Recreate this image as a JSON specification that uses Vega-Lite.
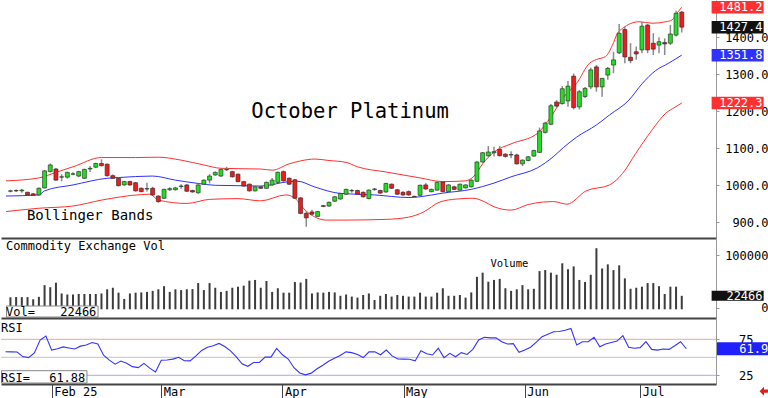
{
"$schema": "https://vega.github.io/schema/vega-lite/v6.json",
"padding": 0,
"spacing": 0,
"bounds": "flush",
"background": "#ffffff",
"config": {"view": {"stroke": null}, "axis": {"labelFont": "DejaVu Sans Mono", "labelFontSize": 12, "labelColor": "#000000", "grid": false}},
"datasets": {
"ohlc": [
{"i":0,"o":984,"h":988,"l":981,"c":985,"v":19600,"r":57.8},
{"i":1,"o":986,"h":989,"l":982,"c":985,"v":20000,"r":57.6},
{"i":2,"o":985,"h":991,"l":980,"c":987,"v":20000,"r":57.4},
{"i":3,"o":981,"h":983,"l":972,"c":974,"v":20000,"r":51},
{"i":4,"o":977,"h":979,"l":971,"c":973,"v":15800,"r":49.5},
{"i":5,"o":974,"h":994,"l":972,"c":992,"v":20500,"r":56},
{"i":6,"o":993,"h":1041,"l":991,"c":1039,"v":43000,"r":74},
{"i":7,"o":1037,"h":1059,"l":1035,"c":1055,"v":39000,"r":79.5},
{"i":8,"o":1044,"h":1047,"l":1012,"c":1014,"v":47700,"r":60},
{"i":9,"o":1022,"h":1030,"l":1011,"c":1023,"v":27000,"r":62},
{"i":10,"o":1022,"h":1037,"l":1018,"c":1035,"v":25000,"r":64.5},
{"i":11,"o":1030,"h":1035,"l":1027,"c":1031,"v":25000,"r":63},
{"i":12,"o":1025,"h":1039,"l":1022,"c":1037,"v":26000,"r":61.5},
{"i":13,"o":1019,"h":1045,"l":1017,"c":1043,"v":26000,"r":65.5},
{"i":14,"o":1044,"h":1052,"l":1036,"c":1046,"v":26000,"r":67},
{"i":15,"o":1049,"h":1061,"l":1047,"c":1059,"v":26000,"r":70.5},
{"i":16,"o":1059,"h":1070,"l":1051,"c":1053,"v":27000,"r":68.5},
{"i":17,"o":1057,"h":1059,"l":1024,"c":1026,"v":35000,"r":53},
{"i":18,"o":1026,"h":1029,"l":1017,"c":1019,"v":38000,"r":46},
{"i":19,"o":1019,"h":1021,"l":997,"c":999,"v":28500,"r":40.5},
{"i":20,"o":1001,"h":1012,"l":999,"c":1010,"v":16500,"r":44.8},
{"i":21,"o":1010,"h":1012,"l":999,"c":1001,"v":27000,"r":41.8},
{"i":22,"o":1007,"h":1009,"l":983,"c":985,"v":28500,"r":37},
{"i":23,"o":992,"h":994,"l":981,"c":983,"v":29000,"r":35.6},
{"i":24,"o":990,"h":1007,"l":983,"c":991,"v":30000,"r":41.5},
{"i":25,"o":992,"h":996,"l":972,"c":974,"v":32000,"r":35},
{"i":26,"o":971,"h":973,"l":953,"c":956,"v":35000,"r":29.5},
{"i":27,"o":965,"h":991,"l":963,"c":989,"v":41000,"r":45.8},
{"i":28,"o":988,"h":995,"l":985,"c":991,"v":30000,"r":46.2},
{"i":29,"o":988,"h":996,"l":986,"c":993,"v":35000,"r":47.5},
{"i":30,"o":997,"h":1003,"l":991,"c":998,"v":33500,"r":50},
{"i":31,"o":1001,"h":1003,"l":982,"c":984,"v":35000,"r":45.2},
{"i":32,"o":986,"h":988,"l":980,"c":982,"v":35500,"r":45},
{"i":33,"o":980,"h":1003,"l":977,"c":1001,"v":47000,"r":52},
{"i":34,"o":1003,"h":1016,"l":1001,"c":1014,"v":33500,"r":59.5},
{"i":35,"o":1014,"h":1030,"l":1005,"c":1025,"v":47000,"r":64},
{"i":36,"o":1028,"h":1037,"l":1026,"c":1035,"v":38000,"r":66},
{"i":37,"o":1025,"h":1045,"l":1023,"c":1043,"v":30000,"r":69.3},
{"i":38,"o":1042,"h":1050,"l":1039,"c":1043,"v":32000,"r":65},
{"i":39,"o":1037,"h":1039,"l":1021,"c":1023,"v":38000,"r":59},
{"i":40,"o":1030,"h":1032,"l":1008,"c":1010,"v":40000,"r":50.5},
{"i":41,"o":1010,"h":1012,"l":996,"c":998,"v":42000,"r":41},
{"i":42,"o":1003,"h":1005,"l":983,"c":985,"v":51600,"r":37.5},
{"i":43,"o":985,"h":998,"l":983,"c":996,"v":53000,"r":42.8},
{"i":44,"o":996,"h":998,"l":990,"c":992,"v":38000,"r":43},
{"i":45,"o":992,"h":1010,"l":990,"c":1008,"v":51000,"r":50.3},
{"i":46,"o":1001,"h":1020,"l":999,"c":1014,"v":30000,"r":50.2},
{"i":47,"o":1008,"h":1037,"l":1006,"c":1035,"v":37000,"r":62.3},
{"i":48,"o":1037,"h":1040,"l":1010,"c":1012,"v":28500,"r":53.5},
{"i":49,"o":1019,"h":1021,"l":1001,"c":1003,"v":28500,"r":47.6},
{"i":50,"o":1015,"h":1017,"l":963,"c":965,"v":49000,"r":35.5},
{"i":51,"o":966,"h":968,"l":922,"c":924,"v":48000,"r":28.3},
{"i":52,"o":924,"h":930,"l":888,"c":912,"v":55000,"r":25.6},
{"i":53,"o":928,"h":934,"l":918,"c":922,"v":27000,"r":28},
{"i":54,"o":916,"h":931,"l":914,"c":929,"v":29000,"r":34},
{"i":55,"o":945,"h":947,"l":941,"c":943,"v":28500,"r":39},
{"i":56,"o":944,"h":956,"l":942,"c":954,"v":30000,"r":44.5},
{"i":57,"o":957,"h":971,"l":955,"c":969,"v":29000,"r":48.6},
{"i":58,"o":963,"h":980,"l":961,"c":978,"v":22500,"r":52.5},
{"i":59,"o":976,"h":991,"l":974,"c":989,"v":25000,"r":57.5},
{"i":60,"o":985,"h":990,"l":980,"c":986,"v":21000,"r":56.5},
{"i":61,"o":986,"h":988,"l":974,"c":976,"v":19000,"r":54},
{"i":62,"o":981,"h":983,"l":967,"c":969,"v":24000,"r":49.6},
{"i":63,"o":964,"h":989,"l":962,"c":987,"v":27000,"r":57.5},
{"i":64,"o":989,"h":993,"l":985,"c":990,"v":14400,"r":57.8},
{"i":65,"o":986,"h":988,"l":977,"c":979,"v":22500,"r":53.5},
{"i":66,"o":982,"h":1007,"l":980,"c":1005,"v":26000,"r":60},
{"i":67,"o":1003,"h":1005,"l":990,"c":992,"v":21000,"r":52},
{"i":68,"o":988,"h":990,"l":974,"c":976,"v":24000,"r":47.6},
{"i":69,"o":981,"h":984,"l":972,"c":974,"v":22500,"r":47.4},
{"i":70,"o":983,"h":986,"l":972,"c":974,"v":21000,"r":47.2},
{"i":71,"o":970,"h":972,"l":967,"c":969,"v":21000,"r":45},
{"i":72,"o":973,"h":1002,"l":971,"c":1000,"v":28500,"r":59.2},
{"i":73,"o":1001,"h":1006,"l":988,"c":990,"v":21000,"r":55},
{"i":74,"o":983,"h":991,"l":981,"c":989,"v":21000,"r":53.2},
{"i":75,"o":987,"h":1010,"l":985,"c":1008,"v":28500,"r":62.5},
{"i":76,"o":1009,"h":1011,"l":981,"c":983,"v":37000,"r":49.5},
{"i":77,"o":983,"h":1003,"l":981,"c":1001,"v":22500,"r":55.5},
{"i":78,"o":996,"h":999,"l":987,"c":989,"v":22500,"r":50.8},
{"i":79,"o":987,"h":1005,"l":985,"c":1003,"v":24000,"r":56.5},
{"i":80,"o":993,"h":1003,"l":991,"c":1001,"v":19000,"r":54},
{"i":81,"o":996,"h":1016,"l":994,"c":1014,"v":29000,"r":61},
{"i":82,"o":1011,"h":1065,"l":1009,"c":1063,"v":59000,"r":74},
{"i":83,"o":1063,"h":1090,"l":1061,"c":1088,"v":67000,"r":77.8},
{"i":84,"o":1080,"h":1106,"l":1077,"c":1090,"v":49600,"r":77},
{"i":85,"o":1088,"h":1104,"l":1078,"c":1091,"v":53000,"r":77.2},
{"i":86,"o":1097,"h":1106,"l":1078,"c":1080,"v":55000,"r":71.5},
{"i":87,"o":1084,"h":1087,"l":1075,"c":1078,"v":37000,"r":68.5},
{"i":88,"o":1082,"h":1092,"l":1073,"c":1083,"v":32000,"r":69},
{"i":89,"o":1082,"h":1085,"l":1056,"c":1058,"v":35000,"r":57},
{"i":90,"o":1058,"h":1070,"l":1052,"c":1068,"v":43000,"r":60},
{"i":91,"o":1067,"h":1079,"l":1065,"c":1077,"v":35000,"r":64},
{"i":92,"o":1079,"h":1096,"l":1077,"c":1094,"v":36000,"r":71},
{"i":93,"o":1089,"h":1156,"l":1087,"c":1147,"v":70000,"r":78.6},
{"i":94,"o":1143,"h":1172,"l":1140,"c":1168,"v":72000,"r":82},
{"i":95,"o":1165,"h":1220,"l":1162,"c":1215,"v":67000,"r":85.6},
{"i":96,"o":1225,"h":1230,"l":1210,"c":1214,"v":63000,"r":85.8},
{"i":97,"o":1221,"h":1268,"l":1218,"c":1261,"v":85000,"r":87.5},
{"i":98,"o":1228,"h":1282,"l":1212,"c":1268,"v":73600,"r":90},
{"i":99,"o":1295,"h":1302,"l":1205,"c":1210,"v":79000,"r":67},
{"i":100,"o":1212,"h":1258,"l":1205,"c":1253,"v":53000,"r":71.7},
{"i":101,"o":1240,"h":1266,"l":1236,"c":1262,"v":49000,"r":71.8},
{"i":102,"o":1266,"h":1318,"l":1260,"c":1312,"v":63000,"r":77.8},
{"i":103,"o":1320,"h":1325,"l":1253,"c":1266,"v":114000,"r":64.7},
{"i":104,"o":1266,"h":1290,"l":1239,"c":1289,"v":75000,"r":68.5},
{"i":105,"o":1298,"h":1320,"l":1285,"c":1316,"v":83000,"r":70.5},
{"i":106,"o":1325,"h":1361,"l":1303,"c":1339,"v":72000,"r":72.6},
{"i":107,"o":1358,"h":1436,"l":1355,"c":1411,"v":81000,"r":80},
{"i":108,"o":1421,"h":1429,"l":1330,"c":1347,"v":56000,"r":63.9},
{"i":109,"o":1346,"h":1384,"l":1330,"c":1337,"v":36000,"r":62.5},
{"i":110,"o":1361,"h":1375,"l":1339,"c":1355,"v":38000,"r":63.4},
{"i":111,"o":1366,"h":1442,"l":1357,"c":1430,"v":40000,"r":71.7},
{"i":112,"o":1433,"h":1436,"l":1357,"c":1366,"v":47000,"r":61},
{"i":113,"o":1384,"h":1411,"l":1352,"c":1368,"v":47000,"r":60},
{"i":114,"o":1379,"h":1400,"l":1357,"c":1388,"v":41000,"r":61.5},
{"i":115,"o":1386,"h":1397,"l":1352,"c":1382,"v":26000,"r":61},
{"i":116,"o":1384,"h":1433,"l":1379,"c":1409,"v":40000,"r":66},
{"i":117,"o":1406,"h":1472,"l":1402,"c":1465,"v":40000,"r":71.7},
{"i":118,"o":1468,"h":1471,"l":1413,"c":1427.4,"v":22466,"r":61.88}
],
"bands": [
{"i":-0.78,"b":"upper","p":1012},{"i":5,"b":"upper","p":1020},{"i":8,"b":"upper","p":1035},{"i":11,"b":"upper","p":1050},{"i":16,"b":"upper","p":1075},{"i":22,"b":"upper","p":1075},{"i":26,"b":"upper","p":1076},{"i":30,"b":"upper","p":1068},{"i":34,"b":"upper","p":1055},{"i":37,"b":"upper","p":1046},{"i":40,"b":"upper","p":1045},{"i":44,"b":"upper","p":1044},{"i":46,"b":"upper","p":1041},{"i":49,"b":"upper","p":1058},{"i":51,"b":"upper","p":1066},{"i":53.5,"b":"upper","p":1071},{"i":56,"b":"upper","p":1067},{"i":59,"b":"upper","p":1062},{"i":61,"b":"upper","p":1050},{"i":66,"b":"upper","p":1036},{"i":72,"b":"upper","p":1020},{"i":76,"b":"upper","p":1010},{"i":80,"b":"upper","p":1012},{"i":81.5,"b":"upper","p":1025},{"i":83,"b":"upper","p":1058},{"i":85,"b":"upper","p":1090},{"i":88,"b":"upper","p":1112},{"i":92.6,"b":"upper","p":1140},{"i":95,"b":"upper","p":1185},{"i":97.2,"b":"upper","p":1238},{"i":99.5,"b":"upper","p":1275},{"i":101.8,"b":"upper","p":1330},{"i":103,"b":"upper","p":1340},{"i":104.6,"b":"upper","p":1348},{"i":105.8,"b":"upper","p":1378},{"i":106.7,"b":"upper","p":1411},{"i":107.6,"b":"upper","p":1424},{"i":110.5,"b":"upper","p":1442},{"i":112.8,"b":"upper","p":1438},{"i":115.2,"b":"upper","p":1442},{"i":116.3,"b":"upper","p":1447},{"i":117.2,"b":"upper","p":1466},{"i":118,"b":"upper","p":1481.2},
{"i":-0.78,"b":"mid","p":971},{"i":5,"b":"mid","p":974},{"i":6,"b":"mid","p":985},{"i":11,"b":"mid","p":1001},{"i":17,"b":"mid","p":1019},{"i":19,"b":"mid","p":1021},{"i":25,"b":"mid","p":1025},{"i":29,"b":"mid","p":1014},{"i":33,"b":"mid","p":1005},{"i":36,"b":"mid","p":1000},{"i":40,"b":"mid","p":999},{"i":44,"b":"mid","p":998},{"i":49,"b":"mid","p":1010},{"i":50.5,"b":"mid","p":1011},{"i":53.4,"b":"mid","p":996},{"i":58,"b":"mid","p":978},{"i":64,"b":"mid","p":974},{"i":70,"b":"mid","p":967},{"i":72,"b":"mid","p":969},{"i":76,"b":"mid","p":979},{"i":81,"b":"mid","p":989},{"i":85,"b":"mid","p":1006},{"i":88,"b":"mid","p":1023},{"i":92.6,"b":"mid","p":1047},{"i":95.4,"b":"mid","p":1077},{"i":97.2,"b":"mid","p":1102},{"i":99.5,"b":"mid","p":1130},{"i":103,"b":"mid","p":1163},{"i":105.3,"b":"mid","p":1190},{"i":108.7,"b":"mid","p":1230},{"i":111,"b":"mid","p":1274},{"i":113.4,"b":"mid","p":1310},{"i":115.7,"b":"mid","p":1330},{"i":118,"b":"mid","p":1351.8},
{"i":-0.78,"b":"lower","p":929},{"i":5,"b":"lower","p":938},{"i":11,"b":"lower","p":944},{"i":16,"b":"lower","p":960},{"i":23,"b":"lower","p":975},{"i":24.5,"b":"lower","p":976},{"i":26,"b":"lower","p":960},{"i":31,"b":"lower","p":951},{"i":35,"b":"lower","p":962},{"i":40,"b":"lower","p":964},{"i":44,"b":"lower","p":958},{"i":48.4,"b":"lower","p":974},{"i":50,"b":"lower","p":965},{"i":51.8,"b":"lower","p":933},{"i":54,"b":"lower","p":911},{"i":55.5,"b":"lower","p":906},{"i":59,"b":"lower","p":906},{"i":66,"b":"lower","p":908},{"i":70,"b":"lower","p":914},{"i":72.5,"b":"lower","p":927},{"i":75.5,"b":"lower","p":955},{"i":78.5,"b":"lower","p":963},{"i":81.3,"b":"lower","p":965},{"i":83.4,"b":"lower","p":955},{"i":85,"b":"lower","p":942},{"i":88,"b":"lower","p":933},{"i":91,"b":"lower","p":948},{"i":93.7,"b":"lower","p":955},{"i":95.5,"b":"lower","p":956},{"i":97.8,"b":"lower","p":949},{"i":101.2,"b":"lower","p":985},{"i":105.3,"b":"lower","p":1001},{"i":107.6,"b":"lower","p":1032},{"i":109.9,"b":"lower","p":1086},{"i":112.8,"b":"lower","p":1150},{"i":115.2,"b":"lower","p":1195},{"i":116.8,"b":"lower","p":1211},{"i":118,"b":"lower","p":1222.3}
],
"one": [{}]
},
"vconcat": [
{
"width": 715, "height": 238,
"layer": [
{"data": {"name": "bands"}, "mark": {"type": "line", "strokeWidth": 1, "interpolate": "monotone"},
 "encoding": {
  "x": {"field": "i", "type": "quantitative", "scale": {"domain": [-0.78, 123.14], "nice": false, "zero": false}, "axis": {"orient": "bottom", "labels": false, "ticks": false, "domainColor": "#444444", "domainWidth": 2, "title": null, "zindex": 1}},
  "y": {"field": "p", "type": "quantitative", "scale": {"domain": [857.6, 1500.8], "nice": false, "zero": false}, "axis": {"orient": "right", "values": [900,1000,1100,1200,1300,1400], "format": ".1f", "labelAlign": "right", "labelBaseline": "middle", "labelPadding": 49, "tickSize": 3, "tickColor": "#999999", "domainColor": "#999999", "title": null}},
  "color": {"field": "b", "type": "nominal", "scale": {"domain": ["upper","mid","lower"], "range": ["#ff3030","#3030ff","#ff3030"]}, "legend": null},
  "detail": {"field": "b"}
 }},
{"data": {"name": "ohlc"}, "mark": {"type": "rule", "color": "#8a8a8a", "strokeWidth": 1.5},
 "encoding": {"x": {"field": "i", "type": "quantitative"}, "y": {"field": "l", "type": "quantitative"}, "y2": {"field": "h"}}},
{"data": {"name": "ohlc"}, "mark": {"type": "bar", "size": 4, "stroke": "#222222", "strokeWidth": 0.6, "opacity": 1},
 "encoding": {"x": {"field": "i", "type": "quantitative"}, "y": {"field": "o", "type": "quantitative"}, "y2": {"field": "c"},
  "fill": {"condition": {"test": "datum.c >= datum.o", "value": "#22dd22"}, "value": "#ee1c1c"}}},
{"data": {"name": "bands"}, "transform": [{"filter": "datum.i == 118"}], "mark": {"type": "tick", "orient": "horizontal", "size": 52, "thickness": 12.5, "opacity": 1},
 "encoding": {"x": {"datum": 127.82, "type": "quantitative"}, "y": {"field": "p", "type": "quantitative"}, "color": {"field": "b", "type": "nominal", "legend": null}}},
{"data": {"name": "ohlc"}, "transform": [{"filter": "datum.i == 118"}], "mark": {"type": "tick", "orient": "horizontal", "size": 52, "thickness": 12.5, "opacity": 1, "color": "#111111"},
 "encoding": {"x": {"datum": 127.82, "type": "quantitative"}, "y": {"field": "c", "type": "quantitative"}}},
{"data": {"name": "bands"}, "transform": [{"filter": "datum.i == 118"}], "mark": {"type": "text", "align": "right", "baseline": "middle", "font": "DejaVu Sans Mono", "fontSize": 12, "color": "#ffffff"},
 "encoding": {"x": {"datum": 132.2, "type": "quantitative"}, "y": {"field": "p", "type": "quantitative"}, "text": {"field": "p", "format": ".1f"}}},
{"data": {"name": "ohlc"}, "transform": [{"filter": "datum.i == 118"}], "mark": {"type": "text", "align": "right", "baseline": "middle", "font": "DejaVu Sans Mono", "fontSize": 12, "color": "#ffffff"},
 "encoding": {"x": {"datum": 132.2, "type": "quantitative"}, "y": {"field": "c", "type": "quantitative"}, "text": {"field": "c", "format": ".1f"}}},
{"data": {"name": "one"}, "mark": {"type": "text", "align": "center", "baseline": "alphabetic", "font": "DejaVu Sans Mono", "fontSize": 20.5, "color": "#000000"},
 "encoding": {"x": {"datum": 59.7, "type": "quantitative"}, "y": {"datum": 1181.1, "type": "quantitative"}, "text": {"value": "October Platinum"}}},
{"data": {"name": "one"}, "mark": {"type": "text", "align": "left", "baseline": "alphabetic", "font": "DejaVu Sans Mono", "fontSize": 14, "color": "#000000"},
 "encoding": {"x": {"datum": 2.9, "type": "quantitative"}, "y": {"datum": 906.2, "type": "quantitative"}, "text": {"value": "Bollinger Bands"}}}
]
},
{
"width": 715, "height": 80,
"layer": [
{"data": {"name": "ohlc"}, "mark": {"type": "bar", "size": 2, "color": "#3c3c3c", "opacity": 1},
 "encoding": {
  "x": {"field": "i", "type": "quantitative", "scale": {"domain": [-0.78, 123.14], "nice": false, "zero": false}, "axis": {"orient": "bottom", "labels": false, "ticks": false, "domainColor": "#444444", "domainWidth": 2, "title": null, "zindex": 1}},
  "y": {"field": "v", "type": "quantitative", "scale": {"domain": [-20190, 133650], "nice": false, "zero": false}, "axis": {"orient": "right", "values": [0, 50000, 100000], "format": "d", "labelAlign": "right", "labelBaseline": "middle", "labelPadding": 49, "tickSize": 3, "tickColor": "#999999", "domainColor": "#999999", "title": null}},
  "y2": {"datum": -3460}
 }},
{"data": {"name": "ohlc"}, "transform": [{"filter": "datum.i == 118"}], "mark": {"type": "tick", "orient": "horizontal", "size": 52, "thickness": 10, "opacity": 1, "color": "#111111"},
 "encoding": {"x": {"datum": 127.82, "type": "quantitative"}, "y": {"field": "v", "type": "quantitative"}}},
{"data": {"name": "ohlc"}, "transform": [{"filter": "datum.i == 118"}], "mark": {"type": "text", "align": "right", "baseline": "middle", "font": "DejaVu Sans Mono", "fontSize": 12, "color": "#ffffff"},
 "encoding": {"x": {"datum": 132.2, "type": "quantitative"}, "y": {"field": "v", "type": "quantitative"}, "text": {"field": "v", "format": "d"}}},
{"data": {"name": "one"}, "mark": {"type": "rect", "fill": "#ffffff", "stroke": "#888888", "strokeWidth": 1},
 "encoding": {"x": {"datum": -0.69, "type": "quantitative"}, "x2": {"datum": 15.4}, "y": {"datum": -18270, "type": "quantitative"}, "y2": {"datum": 2885}}},
{"data": {"name": "one"}, "mark": {"type": "text", "align": "left", "baseline": "alphabetic", "font": "DejaVu Sans Mono", "fontSize": 12, "color": "#000000"},
 "encoding": {"x": {"datum": -0.78, "type": "quantitative"}, "y": {"datum": -15770, "type": "quantitative"}, "text": {"value": "Vol="}}},
{"data": {"name": "ohlc"}, "transform": [{"filter": "datum.i == 118"}], "mark": {"type": "text", "align": "right", "baseline": "alphabetic", "font": "DejaVu Sans Mono", "fontSize": 12, "color": "#000000"},
 "encoding": {"x": {"datum": 15.1, "type": "quantitative"}, "y": {"datum": -15770, "type": "quantitative"}, "text": {"field": "v", "format": "d"}}},
{"data": {"name": "one"}, "mark": {"type": "text", "align": "left", "baseline": "alphabetic", "font": "DejaVu Sans Mono", "fontSize": 12, "color": "#000000"},
 "encoding": {"x": {"datum": -0.78, "type": "quantitative"}, "y": {"datum": 111150, "type": "quantitative"}, "text": {"value": "Commodity Exchange Vol"}}},
{"data": {"name": "one"}, "mark": {"type": "text", "align": "center", "baseline": "alphabetic", "font": "DejaVu Sans Mono", "fontSize": 10.5, "color": "#000000"},
 "encoding": {"x": {"datum": 87.7, "type": "quantitative"}, "y": {"datum": 77300, "type": "quantitative"}, "text": {"value": "Volume"}}}
]
},
{
"width": 715, "height": 66,
"layer": [
{"data": {"name": "one"}, "mark": {"type": "rule", "strokeWidth": 1, "color": "#f5a0a0"},
 "encoding": {
  "y": {"datum": 75, "type": "quantitative", "scale": {"domain": [12.9, 104.6], "nice": false, "zero": false}, "axis": {"orient": "right", "values": [25, 50, 75], "format": "d", "labelAlign": "right", "labelBaseline": "middle", "labelPadding": 34, "tickSize": 3, "tickColor": "#999999", "domainColor": "#999999", "title": null}}
 }},
{"data": {"name": "one"}, "mark": {"type": "rule", "strokeWidth": 1, "color": "#c4c4c4"},
 "encoding": {"y": {"datum": 50, "type": "quantitative"}}},
{"data": {"name": "one"}, "mark": {"type": "rule", "strokeWidth": 1, "color": "#a8a8f5"},
 "encoding": {"y": {"datum": 25, "type": "quantitative"}}},
{"data": {"name": "ohlc"}, "mark": {"type": "line", "color": "#3333ff", "strokeWidth": 1.1},
 "encoding": {
  "x": {"field": "i", "type": "quantitative", "scale": {"domain": [-0.78, 123.14], "nice": false, "zero": false}, "axis": {"orient": "bottom", "values": [8, 27, 48, 69, 90, 110], "labelExpr": "datum.value == 8 ? 'Feb 25' : datum.value == 27 ? 'Mar' : datum.value == 48 ? 'Apr' : datum.value == 69 ? 'May' : datum.value == 90 ? 'Jun' : 'Jul'", "tickSize": 14, "tickColor": "#444444", "tickWidth": 1, "domainColor": "#444444", "domainWidth": 2, "labelAlign": "left", "labelBaseline": "middle", "labelPadding": -7, "labelOffset": 2, "labelOverlap": false, "labelFlush": false, "title": null, "zindex": 1}},
  "y": {"field": "r", "type": "quantitative"}
 }},
{"data": {"name": "ohlc"}, "transform": [{"filter": "datum.i == 118"}], "mark": {"type": "tick", "orient": "horizontal", "size": 52, "thickness": 13, "opacity": 1, "color": "#2020ff"},
 "encoding": {"x": {"datum": 127.82, "type": "quantitative"}, "y": {"field": "r", "type": "quantitative"}}},
{"data": {"name": "ohlc"}, "transform": [{"filter": "datum.i == 118"}], "mark": {"type": "text", "align": "right", "baseline": "middle", "font": "DejaVu Sans Mono", "fontSize": 12, "color": "#ffffff"},
 "encoding": {"x": {"datum": 132.2, "type": "quantitative"}, "y": {"field": "r", "type": "quantitative"}, "text": {"field": "r", "format": ".1f"}}},
{"data": {"name": "one"}, "mark": {"type": "rect", "fill": "#ffffff", "stroke": "#888888", "strokeWidth": 1},
 "encoding": {"x": {"datum": -0.69, "type": "quantitative"}, "x2": {"datum": 14.12}, "y": {"datum": 14.3, "type": "quantitative"}, "y2": {"datum": 31.4}}},
{"data": {"name": "one"}, "mark": {"type": "text", "align": "left", "baseline": "alphabetic", "font": "DejaVu Sans Mono", "fontSize": 12, "color": "#000000"},
 "encoding": {"x": {"datum": -0.78, "type": "quantitative"}, "y": {"datum": 16.1, "type": "quantitative"}, "text": {"value": "RSI="}}},
{"data": {"name": "ohlc"}, "transform": [{"filter": "datum.i == 118"}], "mark": {"type": "text", "align": "right", "baseline": "alphabetic", "font": "DejaVu Sans Mono", "fontSize": 12, "color": "#000000"},
 "encoding": {"x": {"datum": 13.83, "type": "quantitative"}, "y": {"datum": 16.1, "type": "quantitative"}, "text": {"field": "r", "format": ".2f"}}},
{"data": {"name": "one"}, "mark": {"type": "text", "align": "left", "baseline": "alphabetic", "font": "DejaVu Sans Mono", "fontSize": 12, "color": "#000000"},
 "encoding": {"x": {"datum": -0.78, "type": "quantitative"}, "y": {"datum": 85.6, "type": "quantitative"}, "text": {"value": "RSI"}}},
{"data": {"name": "one"}, "mark": {"type": "point", "filled": true, "opacity": 1, "color": "#e02020", "size": 81, "shape": "M -1 0 L 0 -1 L 0 -0.35 L 1 -0.35 L 1 0.35 L 0 0.35 L 0 1 Z"},
 "encoding": {"x": {"datum": 131.46, "type": "quantitative"}, "y": {"datum": 2.9, "type": "quantitative"}}}
]
}
]
}
